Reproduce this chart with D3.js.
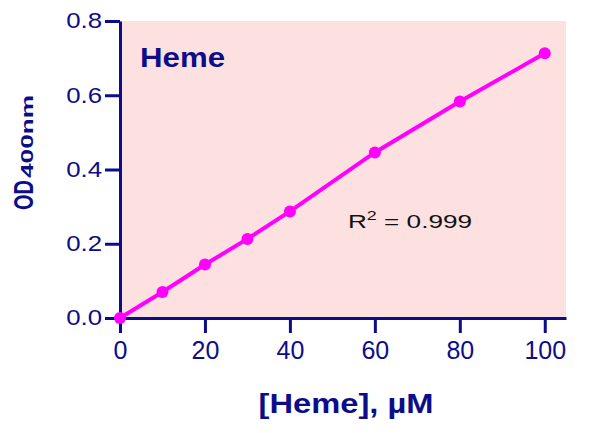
<!DOCTYPE html>
<html>
<head>
<meta charset="utf-8">
<script src="https://cdn.jsdelivr.net/npm/d3@7"></script>
<style>
  body { margin: 0; background: #ffffff; }
  text { font-family: "Liberation Sans", Arial, sans-serif; }
</style>
</head>
<body>
<div id="frame1"></div>
<script>
// heme standard curve

const concentrations = [0, 10, 20, 30, 40, 60, 80, 100];
const odValues = [0.000, 0.070, 0.144, 0.213, 0.287, 0.446, 0.583, 0.713];
const xTicks = [0, 20, 40, 60, 80, 100];
const yTicks = [0.0, 0.2, 0.4, 0.6, 0.8];

const FRAME_WIDTH = 589;
const FRAME_HEIGHT = 433;
const PLOT = {left: 120, right: 566, top: 21, bottom: 318};
const NAVY = "#0d0d8a";
const PINK = "#fde0e0";
const MAGENTA = "#ff00ff";

const FRAME1 = d3.select("#frame1")
    .append("svg")
        .attr("width", FRAME_WIDTH)
        .attr("height", FRAME_HEIGHT);

const X_SCALE = d3.scaleLinear()
                    .domain([0, 105])
                    .range([PLOT.left, PLOT.right]);

const Y_SCALE = d3.scaleLinear()
                    .domain([0, 0.8])
                    .range([PLOT.bottom, PLOT.top]);

// plot background
FRAME1.append("rect")
    .attr("x", PLOT.left)
    .attr("y", PLOT.top)
    .attr("width", PLOT.right - PLOT.left)
    .attr("height", PLOT.bottom - PLOT.top)
    .attr("fill", PINK);

// x axis
const xAxis = FRAME1.append("g")
    .attr("transform", "translate(0," + PLOT.bottom + ")")
    .call(d3.axisBottom(X_SCALE)
            .tickValues(xTicks)
            .tickSize(15)
            .tickSizeOuter(0)
            .tickPadding(8)
            .tickFormat(d3.format("d")));

xAxis.selectAll("text")
    .attr("font-size", "25px")
    .attr("fill", NAVY);

// y axis
const yAxis = FRAME1.append("g")
    .attr("transform", "translate(" + PLOT.left + ",0)")
    .call(d3.axisLeft(Y_SCALE)
            .tickValues(yTicks)
            .tickSize(15)
            .tickSizeOuter(0)
            .tickPadding(3)
            .tickFormat(d3.format(".1f")));

yAxis.selectAll("text")
    .attr("font-size", "21.5px")
    .attr("fill", NAVY)
    .each(function() {
        this.setAttribute("textLength", this.getComputedTextLength() * 1.2);
        this.setAttribute("lengthAdjust", "spacingAndGlyphs");
    });

FRAME1.selectAll(".domain, .tick line")
    .attr("stroke", NAVY)
    .attr("stroke-width", 3);

// data line and points
const line = d3.line()
    .x((d, i) => X_SCALE(concentrations[i]))
    .y((d) => Y_SCALE(d));

FRAME1.append("path")
    .datum(odValues)
    .attr("d", line)
    .attr("fill", "none")
    .attr("stroke", MAGENTA)
    .attr("stroke-width", 4);

FRAME1.selectAll("points")
    .data(odValues)
    .enter()
    .append("circle")
        .attr("cx", (d, i) => X_SCALE(concentrations[i]))
        .attr("cy", (d) => Y_SCALE(d))
        .attr("r", 6)
        .attr("fill", MAGENTA);

// labels
FRAME1.append("text")
    .attr("x", 140)
    .attr("y", 67)
    .attr("font-size", "27.5px")
    .attr("font-weight", "bold")
    .attr("fill", NAVY)
    .attr("textLength", 85)
    .attr("lengthAdjust", "spacingAndGlyphs")
    .text("Heme");

const r2 = FRAME1.append("text")
    .attr("x", 348)
    .attr("y", 228)
    .attr("font-size", "19px")
    .attr("fill", "#111111")
    .attr("textLength", 124)
    .attr("lengthAdjust", "spacingAndGlyphs");
r2.append("tspan").text("R");
r2.append("tspan").attr("dy", -8).attr("font-size", "13px").text("2");
r2.append("tspan").attr("dy", 8).text(" = 0.999");

FRAME1.append("text")
    .attr("x", 346)
    .attr("y", 413)
    .attr("text-anchor", "middle")
    .attr("font-size", "27px")
    .attr("font-weight", "bold")
    .attr("fill", NAVY)
    .attr("textLength", 175)
    .attr("lengthAdjust", "spacingAndGlyphs")
    .text("[Heme], \u00b5M");

const yTitle = FRAME1.append("g")
    .attr("transform", "translate(33,210) rotate(-90)");

yTitle.append("text")
    .attr("x", 0)
    .attr("y", 0)
    .attr("font-size", "28px")
    .attr("font-weight", "bold")
    .attr("fill", NAVY)
    .attr("textLength", 30)
    .attr("lengthAdjust", "spacingAndGlyphs")
    .text("OD");

yTitle.append("text")
    .attr("x", 32)
    .attr("y", 0)
    .attr("font-size", "16px")
    .attr("font-weight", "bold")
    .attr("fill", NAVY)
    .attr("textLength", 83)
    .attr("lengthAdjust", "spacingAndGlyphs")
    .text("400nm");
</script>
</body>
</html>
